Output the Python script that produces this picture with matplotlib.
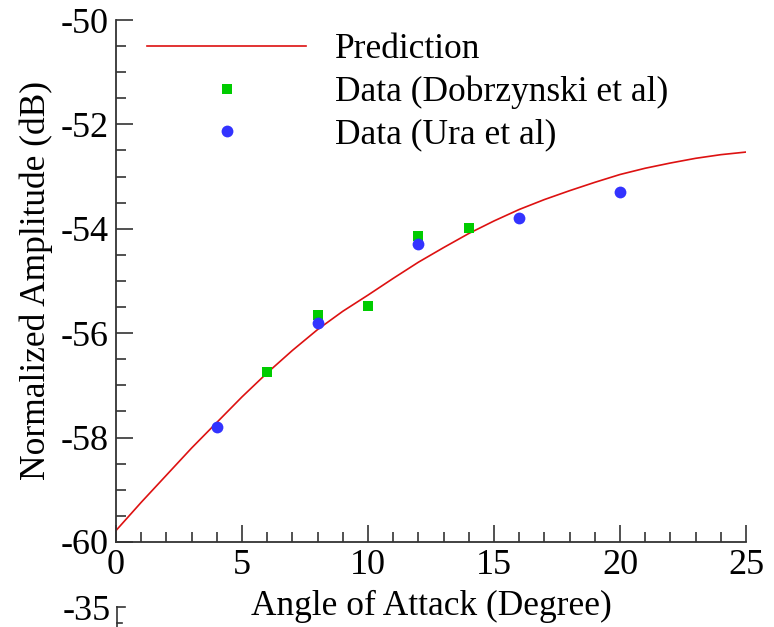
import numpy as np
import matplotlib
matplotlib.use("Agg")
import matplotlib.pyplot as plt
from matplotlib.lines import Line2D
from matplotlib.ticker import MultipleLocator

# prediction curve
pred_x = [0, 1, 2, 3, 4, 5, 6, 7, 8, 9, 10, 11, 12, 13, 14, 15, 16, 17, 18, 19, 20, 21, 22, 23, 24, 25]
pred_y = [-59.78, -59.24, -58.72, -58.20, -57.71, -57.22, -56.76, -56.33, -55.93, -55.58,
          -55.27, -54.95, -54.64, -54.36, -54.09, -53.85, -53.63, -53.44, -53.27, -53.11,
          -52.96, -52.84, -52.74, -52.65, -52.58, -52.53]

# measured data
dob_x = [6, 8, 10, 12, 14]
dob_y = [-56.74, -55.65, -55.48, -54.13, -53.98]
ura_x = [4, 8, 12, 16, 20]
ura_y = [-57.80, -55.80, -54.30, -53.80, -53.30]

plt.rcParams['font.family'] = ['Liberation Serif', 'DejaVu Serif']
plt.rcParams['axes.unicode_minus'] = False

fig = plt.figure(figsize=(7.74, 6.27), dpi=100)
ax = fig.add_axes([0.1499, 0.1356, 0.8139, 0.8325])

ax.plot(pred_x, pred_y, color='#dd1111', linewidth=1.2, label='Prediction')
ax.plot(dob_x, dob_y, linestyle='none', marker='s', markersize=7.5,
        color='#00cc00', markeredgewidth=0, label='Data (Dobrzynski et al)')
ax.plot(ura_x, ura_y, linestyle='none', marker='o', markersize=8.5,
        color='#3333ff', markeredgewidth=0, label='Data (Ura et al)')

ax.set_xlim(0, 25)
ax.set_ylim(-60, -50)
ax.xaxis.set_major_locator(MultipleLocator(5))
ax.xaxis.set_minor_locator(MultipleLocator(1))
ax.yaxis.set_major_locator(MultipleLocator(2))
ax.yaxis.set_minor_locator(MultipleLocator(0.5))

for side in ('top', 'right'):
    ax.spines[side].set_visible(False)
for side in ('left', 'bottom'):
    ax.spines[side].set_linewidth(1.3)
    ax.spines[side].set_color('#333333')

ax.tick_params(which='both', direction='in', color='#333333', width=1.2,
               labelsize=26, labelcolor='black')
ax.tick_params(which='major', length=12, pad=5)
ax.tick_params(which='minor', length=7)

ax.set_xlabel('Angle of Attack (Degree)', fontsize=25.5, labelpad=6)
ax.set_ylabel('Normalized Amplitude (dB)', fontsize=25.5, labelpad=6)

ax.legend(loc='upper left', bbox_to_anchor=(0.038, 0.988), frameon=False,
          fontsize=25.5, handlelength=4.5, handletextpad=0.8, labelspacing=0.26,
          borderpad=0.2, borderaxespad=0.0)

# stray tick fragment of a second axis in the lower left
fig.text(0.143, 0.025, '-35', fontsize=26, ha='right', va='center')
fig.add_artist(Line2D([0.151, 0.151], [0.0, 0.032], color='#333333', lw=1.2,
                      transform=fig.transFigure))
fig.add_artist(Line2D([0.151, 0.161], [0.032, 0.032], color='#333333', lw=1.2,
                      transform=fig.transFigure))
fig.add_artist(Line2D([0.151, 0.158], [0.006, 0.006], color='#333333', lw=1.2,
                      transform=fig.transFigure))

fig.savefig('out.png', dpi=100)
